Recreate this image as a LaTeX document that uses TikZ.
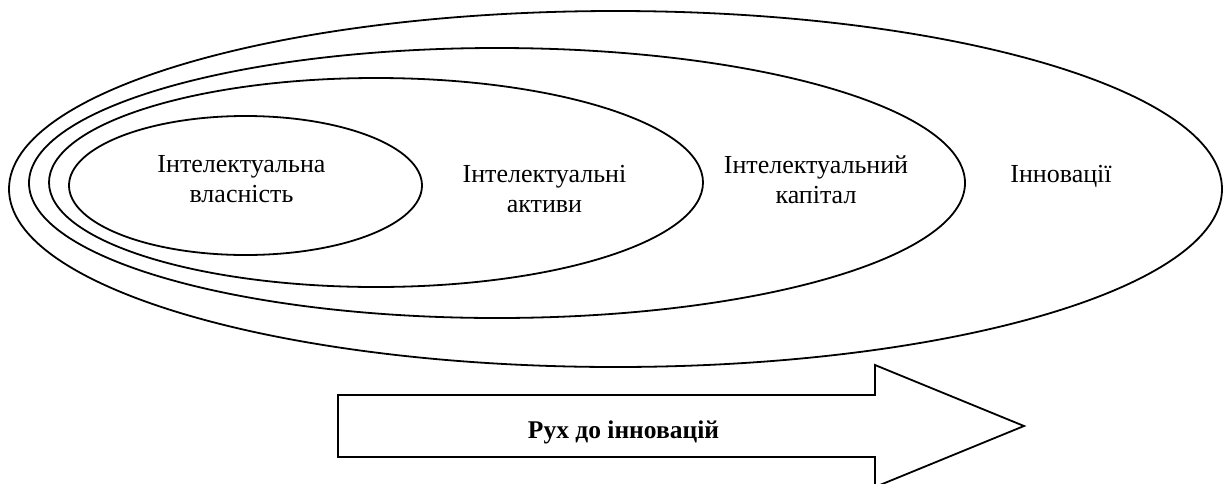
\documentclass[tikz,border=0pt]{standalone}
\usepackage{fontspec}
\setmainfont{Liberation Serif}
\usetikzlibrary{shapes.geometric}
\begin{document}
\begin{tikzpicture}[x=1pt,y=-1pt,
  ring/.style={ellipse, draw, line width=1.8pt, inner sep=0pt, outer sep=0pt},
  lbl/.style={align=center, inner sep=0pt, anchor=base, font=\fontsize{26}{30}\selectfont},
  blbl/.style={inner sep=0pt, anchor=base, font=\fontsize{25.5}{30}\selectfont\bfseries},
  arrowline/.style={draw, line width=1.8pt, line join=miter}
  ]
\clip (0,0) rectangle (1223,483);
% nested ellipses
\node[ring, minimum width=1213pt, minimum height=356pt] (e4) at (615.5,189) {};
\node[ring, minimum width=936pt, minimum height=270pt] (e3) at (497,183) {};
\node[ring, minimum width=654pt, minimum height=209pt] (e2) at (376,182.5) {};
\node[ring, minimum width=353pt, minimum height=139pt] (e1) at (245.5,185.5) {};
% labels (base = baseline of the last line)
\node[lbl] (t1) at (241.5,202) {Інтелектуальна\\власність};
\node[lbl] (t2) at (544.5,212) {Інтелектуальні\\активи};
\node[lbl] (t3) at (816,203) {Інтелектуальний\\капітал};
\node[lbl] (t4) at (1061,182) {Інновації};
% big arrow
\coordinate (a1) at (338,395);
\coordinate (a2) at (875,395);
\coordinate (a3) at (875,365);
\coordinate (a4) at (1024,426);
\coordinate (a5) at (875,487);
\coordinate (a6) at (875,457);
\coordinate (a7) at (338,457);
\path[arrowline] (a1) -- (a2) -- (a3) -- (a4) -- (a5) -- (a6) -- (a7) -- cycle;
\node[blbl] (t5) at (623.5,438) {Рух до інновацій};
\end{tikzpicture}
\end{document}
